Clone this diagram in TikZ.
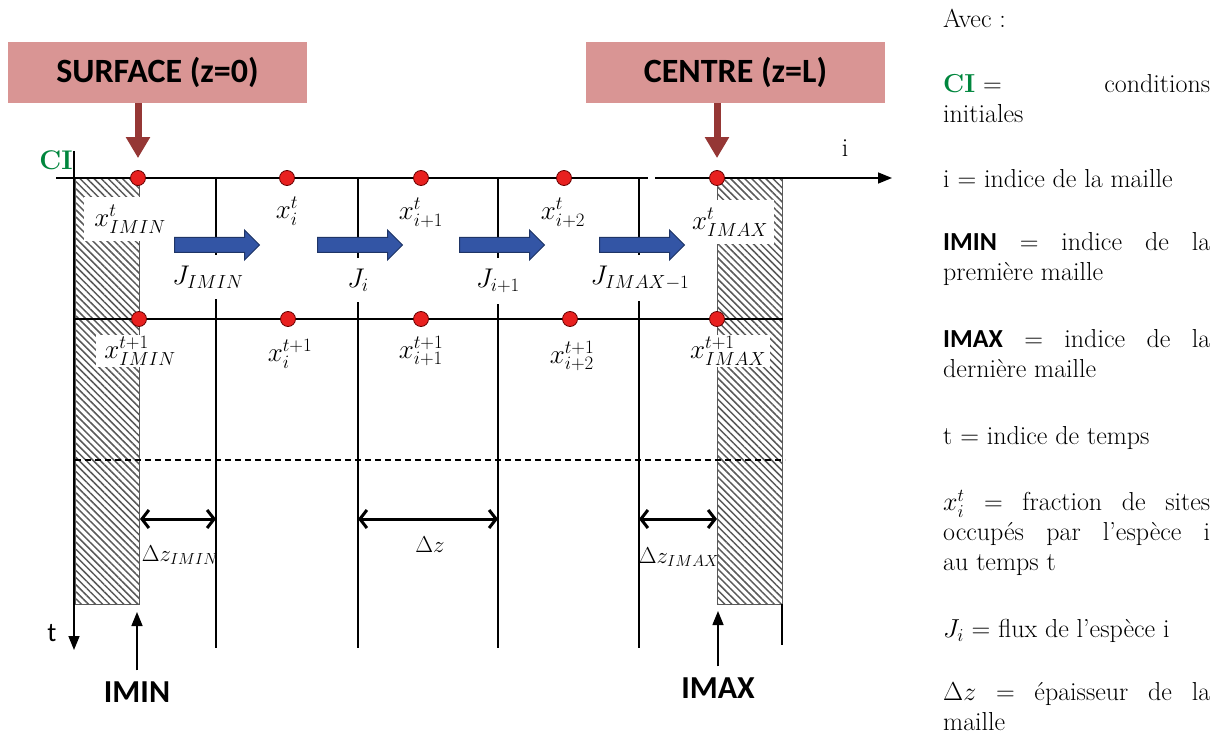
\RequirePackage{fix-cm}
\documentclass[tikz,border=0pt]{standalone}
\usepackage{fontspec}
\newfontfamily\calib{Carlito}
\usetikzlibrary{arrows.meta,positioning,shapes.arrows,patterns.meta}
\definecolor{boxred}{HTML}{D99594}
\definecolor{arrbrown}{HTML}{953735}
\definecolor{fluxblue}{HTML}{3355A5}
\definecolor{fluxdark}{HTML}{1F3566}
\definecolor{dotred}{HTML}{E8201F}
\definecolor{cigreen}{HTML}{00863D}
\tikzset{
  headbox/.style={fill=boxred, minimum width=299pt, minimum height=61pt, inner sep=0pt, font=\calib\bfseries\fontsize{34}{40}\selectfont},
  pointer/.style={-{Triangle[length=21pt,width=23pt]}, line width=7pt, arrbrown},
  site/.style={circle, draw=black!60!red, fill=dotred, minimum size=15pt, inner sep=0pt, line width=0.8pt},
  frac/.style={fill=white, inner xsep=4pt, inner ysep=2pt, font=\fontsize{27}{30}\selectfont},
  fluxlab/.style={fill=white, inner xsep=3pt, inner ysep=11pt, font=\fontsize{27}{30}\selectfont},
  flux/.style={single arrow, draw=fluxdark, fill=fluxblue, line width=1pt, minimum height=85pt, minimum width=30pt, single arrow head extend=7.5pt, inner xsep=0pt, inner ysep=7pt},
  meshline/.style={line width=1.4pt},
  hatch/.style={draw=gray!70!black, line width=1pt, pattern={Lines[angle=-45,distance=5pt,line width=1.5pt]}, pattern color=gray!70!black},
  span/.style={{Straight Barb[length=7pt,width=18pt]}-{Straight Barb[length=7pt,width=18pt]}, line width=3pt},
  timeaxis/.style={-{Triangle[length=14pt,width=11pt]}, line width=1.5pt},
  dzlab/.style={font=\fontsize{23}{26}\selectfont},
  marker/.style={inner sep=2pt, font=\calib\bfseries\fontsize{32}{36}\selectfont},
  legend/.style={anchor=north west, inner sep=0pt, text width=267pt, align=justify, font=\fontsize{26}{30}\selectfont}
}
\begin{document}
\begin{tikzpicture}[x=1pt, y=-1pt]
\useasboundingbox (0,0) rectangle (1221,735);
% hatched boundary cells
\draw[hatch] (75,178) rectangle (139,604);
\draw[hatch] (717,178) rectangle (782,604);
% mesh
\draw[line width=1.5pt] (56,178) -- (648,178);
\draw[timeaxis] (655,178) -- (892,178);
\draw[timeaxis] (74,151) -- (74,650);
\draw[meshline] (74,319) -- (783,319);
\foreach \x in {216,358,498,639}
  \draw[meshline] (\x,178) -- (\x,648);
\draw[meshline] (782,604) -- (782,645);
\draw[dashed, line width=1.2pt, dash pattern=on 6pt off 4pt] (75,460) -- (785,460);
% headers
\node[headbox] (surf) at (157.5,72.5) {SURFACE (z=0)};
\node[headbox] (centre) at (735.5,72.5) {CENTRE (z=L)};
\node[text=cigreen, font=\bfseries\fontsize{27}{30}\selectfont] (ci) at (56,160) {CI};
\node[font=\fontsize{26}{30}\selectfont] (iaxis) at (845,148) {i};
\node[font=\calib\fontsize{27}{30}\selectfont] (taxis) at (52,633) {t};
% values at t
\node[frac, inner xsep=10pt, inner ysep=8pt] (lt1) at (130,219) {$x^t_{IMIN}$};
\node[frac] (lt2) at (287,211) {$x^t_i$};
\node[frac] (lt3) at (421,213) {$x^t_{i+1}$};
\node[frac] (lt4) at (563,213) {$x^t_{i+2}$};
\node[frac, inner xsep=6pt, inner ysep=8pt] (lt5) at (730,222) {$x^t_{IMAX}$};
% values at t+1
\node[frac, inner xsep=8pt] (lb1) at (140,351) {$x^{t+1}_{IMIN}$};
\node[frac] (lb2) at (290,354) {$x^{t+1}_i$};
\node[frac] (lb3) at (421,351) {$x^{t+1}_{i+1}$};
\node[frac] (lb4) at (572,356) {$x^{t+1}_{i+2}$};
\node[frac] (lb5) at (728,351) {$x^{t+1}_{IMAX}$};
% fluxes
\node[fluxlab] (j1) at (208,277) {$J_{IMIN}$};
\node[fluxlab] (j2) at (358,280) {$J_i$};
\node[fluxlab] (j3) at (498,281) {$J_{i+1}$};
\node[fluxlab] (j4) at (640,278) {$J_{IMAX-1}$};
\node[flux, anchor=tail] (f1) at (174,245) {};
\node[flux, anchor=tail] (f2) at (317,245) {};
\node[flux, anchor=tail] (f3) at (459,245) {};
\node[flux, anchor=tail] (f4) at (599,245) {};
% sites
\node[site] (xt1) at (138,178) {};
\node[site] (xt2) at (287,178) {};
\node[site] (xt3) at (421,178) {};
\node[site] (xt4) at (564,178) {};
\node[site] (xt5) at (717,178) {};
\node[site] (xb1) at (139,319) {};
\node[site] (xb2) at (288,319) {};
\node[site] (xb3) at (421,319) {};
\node[site] (xb4) at (570,319) {};
\node[site] (xb5) at (717,319) {};
\draw[pointer, shorten >=12pt] (surf.south -| xt1) -- (xt1.north);
\draw[pointer, shorten >=12pt] (centre.south -| xt5) -- (xt5.north);
% cell widths
\coordinate (dza) at (140,519);
\coordinate (dzb) at (216,519);
\coordinate (dzc) at (358,519);
\coordinate (dzd) at (498,519);
\coordinate (dze) at (639,519);
\coordinate (dzf) at (717,519);
\draw[span] (dza) -- (dzb);
\draw[span] (dzc) -- (dzd);
\draw[span] (dze) -- (dzf);
\node[dzlab] (dz1) at (180,555) {$\Delta z_{IMIN}$};
\node[dzlab] (dz2) at (430,545) {$\Delta z$};
\node[dzlab] (dz3) at (679,557) {$\Delta z_{IMAX}$};
% first and last cells
\node[marker] (imin) at (137,692) {IMIN};
\node[marker] (imax) at (718,688) {IMAX};
\coordinate (pmin) at (137,612);
\coordinate (pmax) at (718,611);
\draw[timeaxis, shorten <=9pt] (imin.north) -- (pmin);
\draw[timeaxis, shorten <=9pt] (imax.north) -- (pmax);
% legend
\node[legend] (legavec) at (943,9) {Avec :};
\node[legend] (legci) at (943,74) {\textcolor{cigreen}{\textbf{CI}} = \hfill conditions\linebreak initiales};
\node[legend] (legi) at (943,169) {i = indice de la maille};
\node[legend] (legimin) at (943,232) {{\calib\bfseries IMIN} = indice de la\linebreak première maille};
\node[legend] (legimax) at (943,329) {{\calib\bfseries IMAX} = indice de la\linebreak dernière maille};
\node[legend] (legt) at (943,426) {t = indice de temps};
\node[legend] (legx) at (943,490) {$x_i^t$ = fraction de sites\linebreak occupés par l'espèce i\linebreak au temps t};
\node[legend] (legj) at (943,619) {$J_i$ = flux de l'espèce i};
\node[legend] (legdz) at (943,682) {$\Delta z$ = épaisseur de la\linebreak maille};
\end{tikzpicture}
\end{document}
